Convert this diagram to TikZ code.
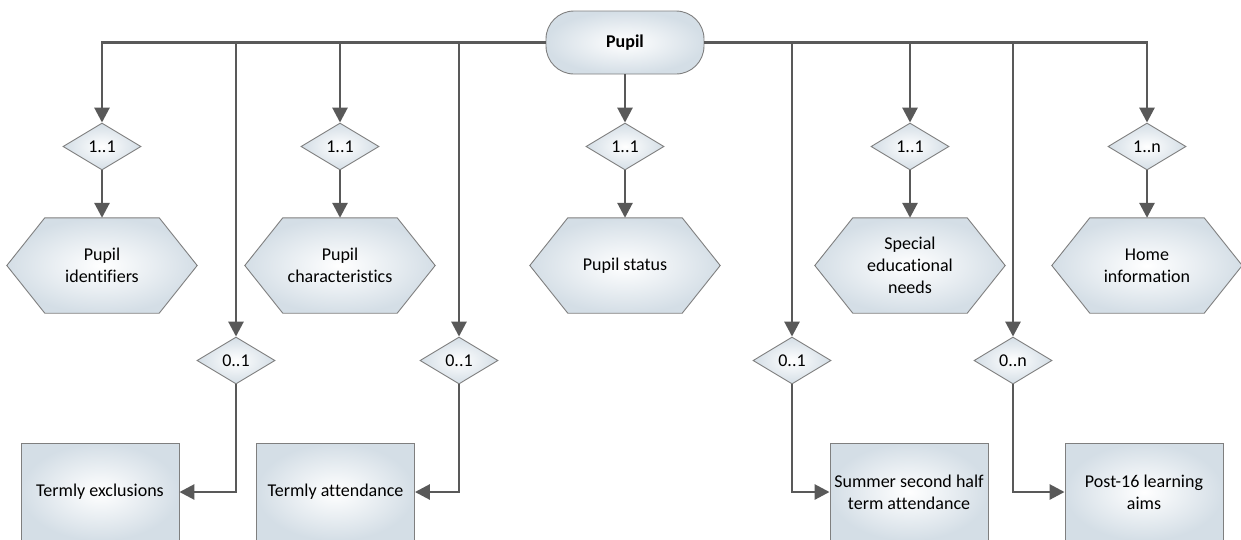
\documentclass[tikz,border=0pt]{standalone}
\usepackage{fontspec}
\setmainfont{Carlito}[Ligatures=NoCommon]
\usetikzlibrary{shapes.geometric,arrows.meta,backgrounds}
\definecolor{linegray}{HTML}{595959}
\definecolor{edgegray}{HTML}{7F7F7F}
\definecolor{fillout}{RGB}{212,222,230}
\newcommand{\labfont}{\fontsize{18}{21.8}\selectfont}
\tikzset{
  base/.style={draw=edgegray, line width=0.9pt, shading=radial, inner color=white, outer color=fillout, font=\labfont, align=center, inner sep=0pt},
  card/.style={base, diamond, minimum width=78pt, minimum height=47pt},
  hexlabel/.style={font=\labfont, align=center, minimum width=190pt, minimum height=95pt, inner sep=0pt},
  hexshape/.style={draw=edgegray, line width=0.9pt, shading=radial, inner color=white, outer color=fillout},
  recbox/.style={base, rectangle, minimum width=158pt, minimum height=97pt},
  rootbox/.style={base, rectangle, rounded corners=28pt, minimum width=158pt, minimum height=63pt, font=\labfont\bfseries},
  link/.style={draw=linegray, line width=2.8pt},
  arr/.style={link, -{Triangle[length=15pt,width=15pt]}},
}
\newcommand{\hexagonof}[1]{%
  \path[hexshape] (#1.west) -- ([xshift=38pt]#1.north west) -- ([xshift=-38pt]#1.north east)
    -- (#1.east) -- ([xshift=-38pt]#1.south east) -- ([xshift=38pt]#1.south west) -- cycle;}
\begin{document}
\begin{tikzpicture}[x=1pt,y=-1pt]
\useasboundingbox (0,0) rectangle (1241,539);

% root
\node[rootbox] (pupil) at (625,42.5) {Pupil};

% top cardinality diamonds
\node[card] (dA) at (102,146.5) {1..1};
\node[card] (dC) at (340,146.5) {1..1};
\node[card] (dE) at (625,146.5) {1..1};
\node[card] (dG) at (910,146.5) {1..1};
\node[card] (dI) at (1147,146.5) {1..n};

% bottom cardinality diamonds
\node[card] (dB) at (236,360.5) {0..1};
\node[card] (dD) at (459,360.5) {0..1};
\node[card] (dF) at (792,360.5) {0..1};
\node[card] (dH) at (1013,360.5) {0..n};

% hexagon labels
\node[hexlabel] (hA) at (102,265.5) {Pupil\\identifiers};
\node[hexlabel] (hC) at (340,265.5) {Pupil\\characteristics};
\node[hexlabel] (hE) at (625,265.5) {Pupil status};
\node[hexlabel] (hG) at (910,265.5) {Special\\educational\\needs};
\node[hexlabel] (hI) at (1147,265.5) {Home\\information};
\begin{scope}[on background layer]
  \hexagonof{hA}
  \hexagonof{hC}
  \hexagonof{hE}
  \hexagonof{hG}
  \hexagonof{hI}
\end{scope}

% rectangles
\node[recbox] (rB) at (100,492) {Termly exclusions};
\node[recbox] (rD) at (335.5,492) {Termly attendance};
\node[recbox] (rF) at (909,492) {Summer second half\\term attendance};
\node[recbox] (rH) at (1144,492) {Post-16 learning\\aims};

% connectors from root
\draw[arr] (pupil.west) -| (dA.north);
\draw[arr] (pupil.west) -| (dB.north);
\draw[arr] (pupil.west) -| (dC.north);
\draw[arr] (pupil.west) -| (dD.north);
\draw[arr] (pupil.south) -- (dE.north);
\draw[arr] (pupil.east) -| (dF.north);
\draw[arr] (pupil.east) -| (dG.north);
\draw[arr] (pupil.east) -| (dH.north);
\draw[arr] (pupil.east) -| (dI.north);

% diamonds to hexagons
\draw[arr] (dA.south) -- (hA.north);
\draw[arr] (dC.south) -- (hC.north);
\draw[arr] (dE.south) -- (hE.north);
\draw[arr] (dG.south) -- (hG.north);
\draw[arr] (dI.south) -- (hI.north);

% diamonds to rectangles
\draw[arr] (dB.south) |- (rB.east);
\draw[arr] (dD.south) |- (rD.east);
\draw[arr] (dF.south) |- (rF.west);
\draw[arr] (dH.south) |- (rH.west);
\end{tikzpicture}
\end{document}
